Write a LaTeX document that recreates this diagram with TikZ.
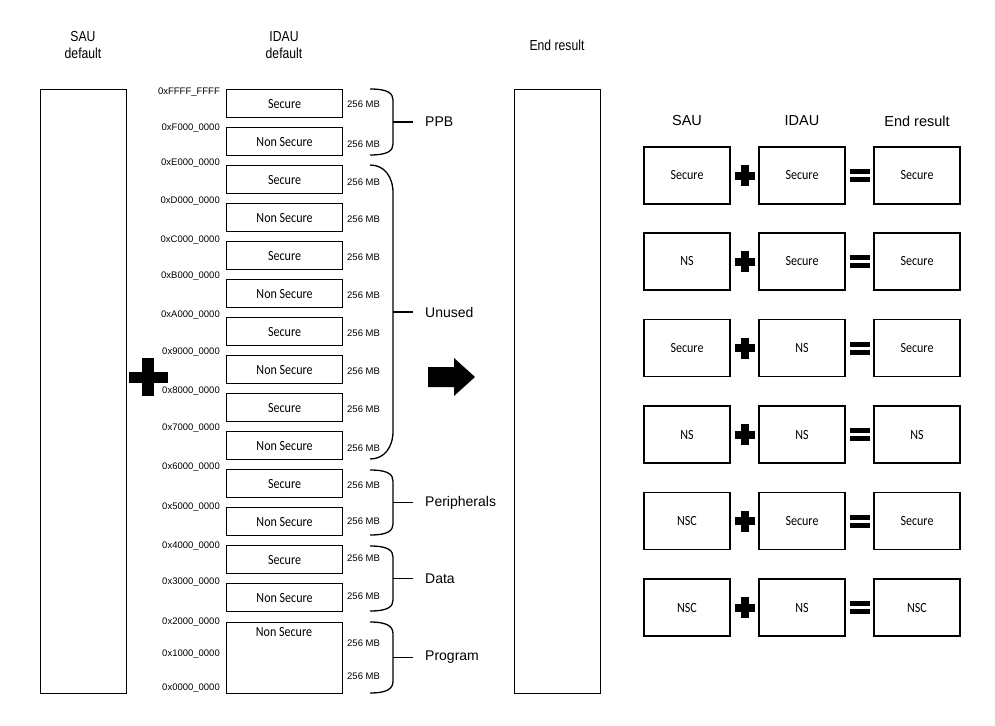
\documentclass[tikz,border=0pt]{standalone}
\usepackage{fontspec}
\setmainfont{Liberation Sans}
\newfontfamily\hdrfont[FakeStretch=0.84]{Liberation Sans}
\newfontfamily\boxfont[FakeStretch=0.86]{Carlito}
\tikzset{
  x=1pt, y=-1pt,
  idau/.style={draw, line width=1.1pt, minimum width=116pt, minimum height=28pt, inner sep=0pt, anchor=north west, font={\boxfont\fontsize{14}{16}\selectfont}},
  boxtxt/.style={inner sep=0pt, font={\boxfont\fontsize{14}{16}\selectfont}},
  bigbox/.style={draw, line width=1.1pt, minimum width=86pt, minimum height=604pt, inner sep=0pt, anchor=north west},
  cell/.style={draw, line width=1.1pt, minimum width=86pt, minimum height=57pt, inner sep=0pt, font={\boxfont\fontsize{14}{16}\selectfont}},
  hdr/.style={align=center, inner sep=0pt, font={\hdrfont\fontsize{14.5}{17}\selectfont}},
  thdr/.style={inner sep=0pt, font={\fontsize{14.5}{17}\selectfont}},
  lbl/.style={inner sep=0pt, font={\fontsize{14}{16}\selectfont}},
  addr/.style={inner sep=0pt, anchor=east, font={\fontsize{9.5}{11}\selectfont}},
  mb/.style={inner sep=0pt, anchor=west, font={\fontsize{9.5}{11}\selectfont}},
  brace/.style={line width=1.3pt},
}
\newcommand\membrace[6]{% top, bottom, label, curve length, control, name
  \draw[brace] (370,#1) .. controls (#5,#1) and (393,#1+#4*0.4) .. (393,#1+#4) -- (393,#2-#4) .. controls (393,#2-#4*0.4) and (#5,#2) .. (370,#2);
  \draw[brace] (393,{(#1+#2)/2}) -- (413,{(#1+#2)/2});
  \node[lbl, anchor=west] (#6) at (425,{(#1+#2)/2}) {#3};
}
\begin{document}
\begin{tikzpicture}
\useasboundingbox (0,0) rectangle (995,725);
% headers
\node[hdr] (hsau) at (83,45.5) {SAU\\default};
\node[hdr] (hidau) at (284,45.5) {IDAU\\default};
\node[hdr] (hend) at (557,45) {End result};
% big boxes
\node[bigbox] (sau) at (40,89) {};
\node[bigbox] (endr) at (514,89) {};
% IDAU boxes
\foreach \i/\t/\txt in {1/89/Secure,2/127/Non Secure,3/165/Secure,4/203/Non Secure,5/241/Secure,6/279/Non Secure,7/317/Secure,8/355/Non Secure,9/393/Secure,10/431/Non Secure,11/469/Secure,12/507/Non Secure,13/545/Secure,14/583/Non Secure}
  \node[idau] (i\i) at (226,\t) {\txt};
\node[idau, minimum height=71pt] (i15) at (226,622) {};
\node[boxtxt] (i15t) at (284,632) {Non Secure};
% addresses
\foreach \n/\y/\txt in {a1/92/0xFFFF\_FFFF,a2/128/0xF000\_0000,a3/163/0xE000\_0000,a4/201/0xD000\_0000,a5/240/0xC000\_0000,a6/276/0xB000\_0000,a7/315/0xA000\_0000,a8/352/0x9000\_0000,a9/391/0x8000\_0000,a10/428/0x7000\_0000,a11/467/0x6000\_0000,a12/507/0x5000\_0000,a13/546/0x4000\_0000,a14/582/0x3000\_0000,a15/622/0x2000\_0000,a16/654/0x1000\_0000,a17/688/0x0000\_0000}
  \node[addr] (\n) at (220,\y) {\txt};
% sizes
\foreach \n/\y in {m1/104,m2/144,m3/182,m4/219,m5/257,m6/295,m7/333,m8/371,m9/409,m10/448,m11/485,m12/521,m13/558,m14/596,m15/643,m16/676}
  \node[mb] (\n) at (347,\y) {256 MB};
% braces
\membrace{89}{155}{PPB}{11}{388}{bppb}
\membrace{165}{459}{Unused}{28}{384}{bunused}
\membrace{470}{535}{Peripherals}{11}{388}{bper}
\membrace{546}{611}{Data}{11}{388}{bdata}
\membrace{622}{693}{Program}{12}{388}{bprog}
% big plus
\fill (129,371.5) rectangle (168,382.5);
\fill (142,358) rectangle (154,396);
% arrow
\fill (428,367) -- (454,367) -- (454,358) -- (475,377) -- (454,396) -- (454,387) -- (428,387) -- cycle;
% right table
\node[thdr] (tsau) at (687,121) {SAU};
\node[thdr] (tidau) at (802,121) {IDAU};
\node[thdr] (tend) at (917,121) {End result};
\foreach \r/\c/\a/\b/\e in {1/175.5/Secure/Secure/Secure,2/261.5/NS/Secure/Secure,3/348/Secure/NS/Secure,4/434.5/NS/NS/NS,5/521/NSC/Secure/Secure,6/607.5/NSC/NS/NSC}{
  \node[cell] (s\r) at (687,\c) {\a};
  \node[cell] (d\r) at (802,\c) {\b};
  \node[cell] (e\r) at (917,\c) {\e};
  \fill (735,\c-4) rectangle (755,\c+4);
  \fill (741,\c-10.5) rectangle (749,\c+10.5);
  \fill (850,\c-6.5) rectangle (870,\c-1.5);
  \fill (850,\c+1.5) rectangle (870,\c+6.5);
}
\end{tikzpicture}
\end{document}
